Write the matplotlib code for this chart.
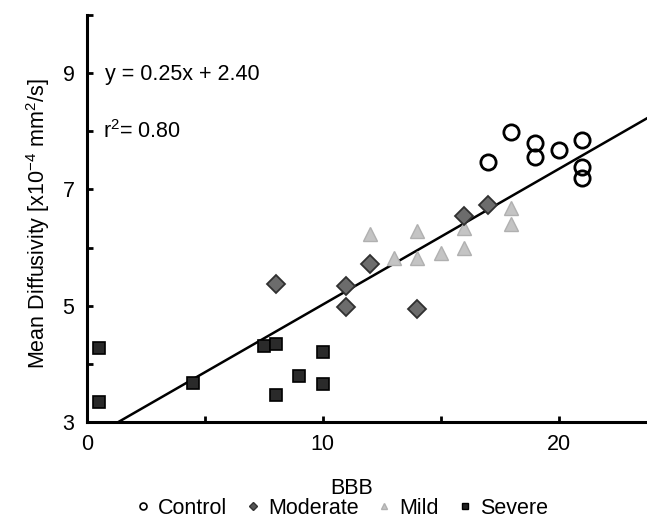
"""Mean diffusivity vs BBB score, grouped by injury severity, with linear fit."""
import matplotlib
matplotlib.use("Agg")
import matplotlib.pyplot as plt
from matplotlib.lines import Line2D
import numpy as np

plt.rcParams["font.family"] = ["Liberation Sans", "DejaVu Sans"]
plt.rcParams["mathtext.fontset"] = "custom"
plt.rcParams["mathtext.rm"] = "Liberation Sans"

# data (BBB score, mean diffusivity x1e-4 mm^2/s)
control_x = [17, 18, 19, 19, 20, 21, 21, 21]
control_y = [7.48, 7.99, 7.79, 7.55, 7.68, 7.85, 7.39, 7.19]
moderate_x = [8, 11, 11, 12, 14, 16, 17]
moderate_y = [5.38, 4.98, 5.34, 5.72, 4.94, 6.54, 6.73]
mild_x = [12, 13, 14, 14, 15, 16, 16, 18, 18]
mild_y = [6.23, 5.82, 6.28, 5.82, 5.91, 5.99, 6.33, 6.68, 6.40]
severe_x = [0.5, 0.5, 4.5, 7.5, 8, 8, 9, 10, 10]
severe_y = [4.28, 3.34, 3.67, 4.30, 4.35, 3.46, 3.79, 4.20, 3.65]

# regression line as drawn in the figure
fit_slope, fit_intercept = 0.233, 2.69
eq_text = "y = 0.25x + 2.40"
r2_text = r"r$^{\mathregular{2}}$= 0.80"

FS = 15.5

fig = plt.figure(figsize=(6.47, 5.18), dpi=100)
ax = fig.add_axes([87 / 647, 96 / 518, 1 - 87 / 647, 407 / 518])

xl = np.array([0.0, 23.75])
ax.plot(xl, fit_slope * xl + fit_intercept, color="black", lw=1.8, zorder=2)

ax.plot(severe_x, severe_y, "s", ms=9, mfc="#2a2a2a", mec="black", mew=1.2,
        ls="none", zorder=3)
ax.plot(mild_x, mild_y, "^", ms=10.5, mfc="#c4c4c4", mec="#b0b0b0", mew=1.0,
        ls="none", zorder=3)
ax.plot(moderate_x, moderate_y, "D", ms=9, mfc="#6c6c6c", mec="#303030",
        mew=1.3, ls="none", zorder=4)
ax.plot(control_x, control_y, "o", ms=11, mfc="none", mec="black", mew=2.0,
        ls="none", zorder=4)

ax.set_xlim(0, 23.75)
ax.set_ylim(3, 10)
ax.set_xticks(np.arange(0, 21, 5))
ax.set_xticklabels(["0", "", "10", "", "20"])
ax.set_yticks(np.arange(3, 11, 1))
ax.set_yticklabels(["3", "", "5", "", "7", "", "9", ""])
for s in ("top", "right"):
    ax.spines[s].set_visible(False)
for s in ("left", "bottom"):
    ax.spines[s].set_linewidth(2.2)
ax.tick_params(direction="in", length=4, width=2, labelsize=FS)
ax.tick_params(axis="y", pad=9)
ax.tick_params(axis="x", pad=9)

ax.text(0.75, 8.97, eq_text, fontsize=FS, va="center", ha="left")
ax.text(0.68, 8.0, r2_text, fontsize=FS, va="center", ha="left")

fig.text(38 / 647, 1 - 224 / 518,
         r"Mean Diffusivity [x10$^{\mathregular{-4}}$ mm$^{\mathregular{2}}$/s]",
         rotation=90, ha="center", va="center", fontsize=FS)
fig.text(352 / 647, 1 - 488 / 518, "BBB", ha="center", va="center", fontsize=FS)

handles = [
    Line2D([], [], marker="o", ls="none", ms=5, mfc="white", mec="black", mew=1.2),
    Line2D([], [], marker="D", ls="none", ms=4, mfc="#555555", mec="#333333"),
    Line2D([], [], marker="^", ls="none", ms=5, mfc="#c4c4c4", mec="#b0b0b0"),
    Line2D([], [], marker="s", ls="none", ms=5, mfc="#222222", mec="black"),
]
fig.legend(handles, ["Control", "Moderate", "Mild", "Severe"], loc="center",
           bbox_to_anchor=(341 / 647, 1 - 508 / 518), ncol=4, frameon=False,
           fontsize=FS, handlelength=0.8, handletextpad=0.3, columnspacing=0.8,
           borderpad=0)

fig.savefig("out.png", dpi=100)
